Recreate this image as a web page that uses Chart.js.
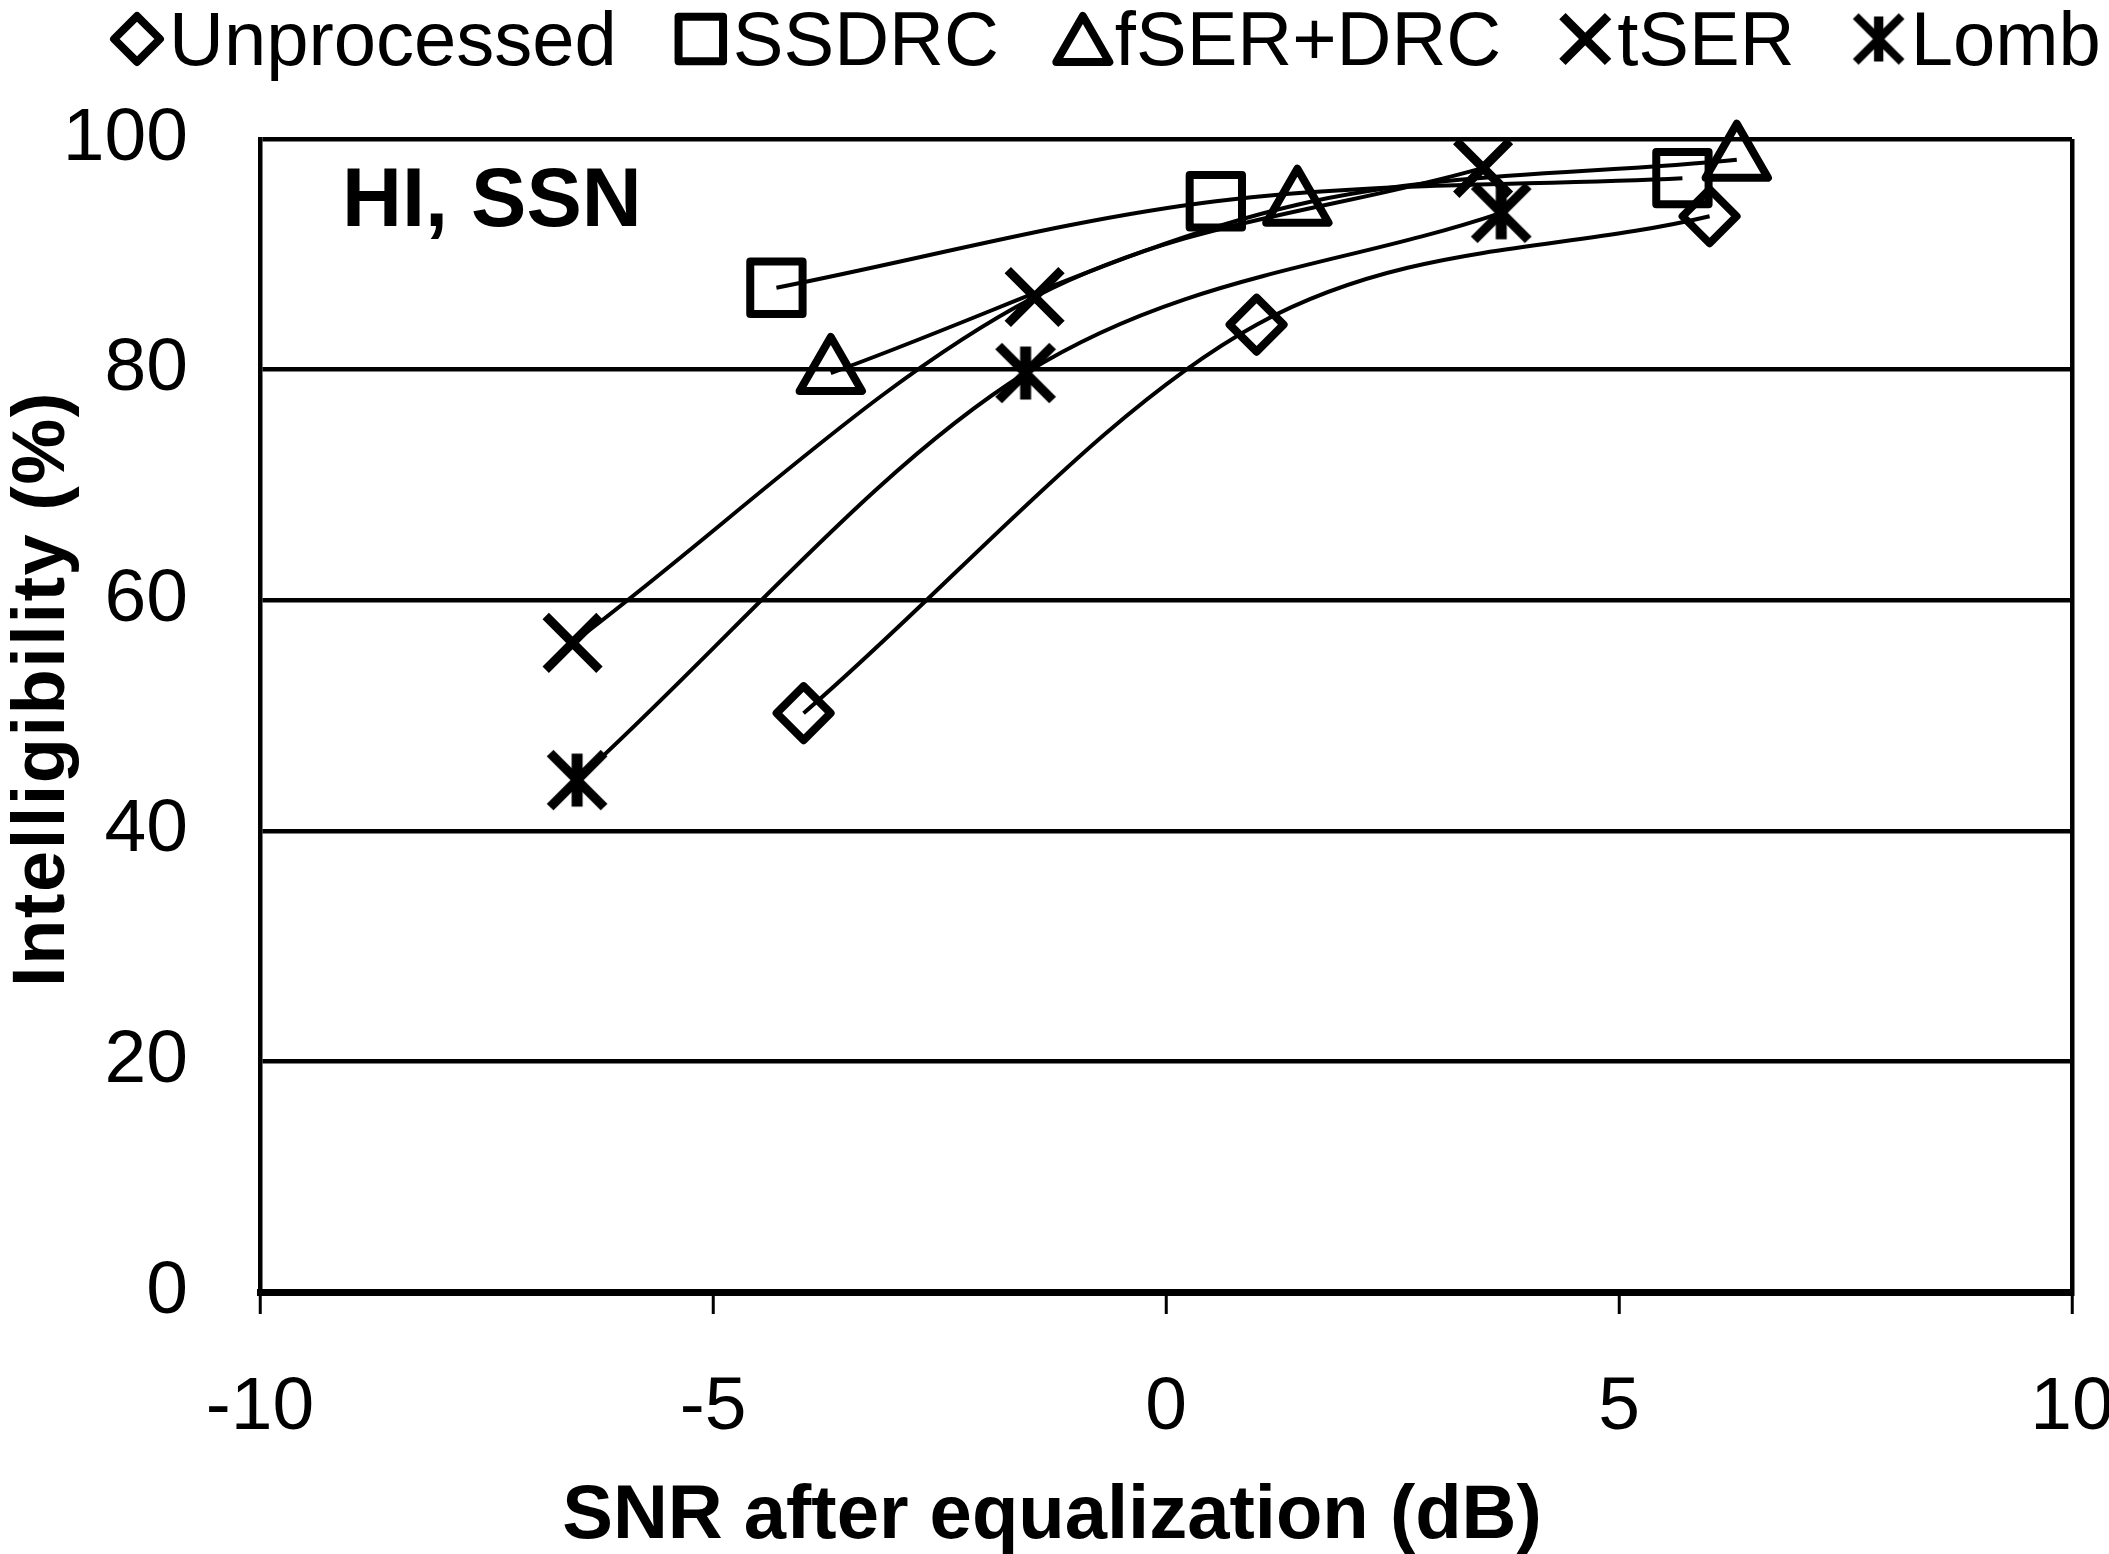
<!DOCTYPE html>
<html>
<head>
<meta charset="utf-8">
<script src="https://cdn.jsdelivr.net/npm/chart.js@4.4.1/dist/chart.umd.min.js"></script>
<style>
html,body{margin:0;padding:0;background:#fff;overflow:hidden}
canvas{display:block}
</style>
</head>
<body>
<canvas id="snrChart" width="2109" height="1554"></canvas>
<script>

const seriesNames = ["Unprocessed", "SSDRC", "fSER+DRC", "tSER", "Lombard"]

const unprocessedX = [-4.0, 1.0, 6.0]
const unprocessedY = [50.2, 83.9, 93.3]

const ssdrcX = [-4.3, 0.55, 5.7]
const ssdrcY = [87.1, 94.6, 96.6]

const fserDrcX = [-3.7, 1.45, 6.3]
const fserDrcY = [79.7, 94.3, 98.2]

const tserX = [-6.55, -1.45, 3.5]
const tserY = [56.3, 86.3, 97.5]

const lombX = [-6.5, -1.55, 3.7]
const lombY = [44.4, 79.7, 93.6]

const xTicks = [-10, -5, 0, 5, 10]
const yTicks = [0, 20, 40, 60, 80, 100]

const panelLabel = "HI, SSN"
const xTitle = "SNR after equalization (dB)"
const yTitle = "Intelligibility (%)"

const FONT = "'Liberation Sans', Arial, sans-serif"

function pts(xs, ys){
return xs.map((x, i) => ({x: x, y: ys[i]}))
}

// excel style star marker: X with a vertical bar
function starMark(scale){
const size = Math.round(72 * scale)
const c = document.createElement("canvas")
c.width = size
c.height = size
const g = c.getContext("2d")
const h = size / 2
const a = 27 * scale
const b = 26.5 * scale
g.strokeStyle = "#000"
g.lineCap = "butt"
g.lineWidth = 9.5 * scale
g.beginPath()
g.moveTo(h - a, h - a); g.lineTo(h + a, h + a)
g.moveTo(h + a, h - a); g.lineTo(h - a, h + a)
g.stroke()
g.lineWidth = 11 * scale
g.beginPath()
g.moveTo(h, h - b); g.lineTo(h, h + b)
g.stroke()
return c
}

function series(label, data, style, radius, bw){
return {
label: label,
data: data,
showLine: true,
clip: false,
borderColor: "#000",
borderWidth: 4,
cubicInterpolationMode: "monotone",
pointStyle: style,
pointRadius: radius,
pointHoverRadius: radius,
pointBorderWidth: bw,
pointHoverBorderWidth: bw,
pointBorderColor: "#000",
pointBackgroundColor: "rgba(0,0,0,0)"
}
}

const roundJoins = {
id: "roundJoins",
beforeDatasetsDraw(chart){
chart.ctx.lineJoin = "round"
}
}

const topLegend = {
id: "topLegend",
afterDraw(chart){
const ctx = chart.ctx
ctx.save()
// the source figure is cropped just after "Lomb"
ctx.beginPath()
ctx.rect(0, 0, 2102, 100)
ctx.clip()
ctx.font = "76px " + FONT
ctx.fillStyle = "#000"
ctx.textAlign = "left"
ctx.textBaseline = "alphabetic"
ctx.lineJoin = "round"
let mx = 137
const my = 39
chart.data.datasets.forEach(ds => {
if (ds.pointStyle instanceof HTMLCanvasElement) {
const img = starMark(0.85)
ctx.drawImage(img, mx - img.width / 2, my - img.height / 2)
} else {
const r = ds.pointRadius * 0.85
ctx.strokeStyle = "#000"
ctx.fillStyle = "rgba(0,0,0,0)"
ctx.lineWidth = ds.pointBorderWidth
Chart.helpers.drawPoint(ctx, {pointStyle: ds.pointStyle, radius: r, borderWidth: ds.pointBorderWidth, rotation: 0},
mx, ds.pointStyle === "triangle" ? my + r / 4 : my)
ctx.fillStyle = "#000"
}
ctx.fillText(ds.label, mx + 32, 65)
mx += 32 + ctx.measureText(ds.label).width + 84
})
ctx.restore()
}
}

const textLayer = {
id: "textLayer",
afterDraw(chart){
const ctx = chart.ctx
const area = chart.chartArea
ctx.save()
ctx.fillStyle = "#000"
ctx.textBaseline = "alphabetic"

ctx.font = "bold 83px " + FONT
ctx.textAlign = "left"
ctx.fillText(panelLabel, area.left + 82, area.top + 87)

ctx.font = "bold 76px " + FONT
ctx.textAlign = "center"
ctx.fillText(xTitle, 1052, 1538)

ctx.translate(64, 689)
ctx.rotate(-Math.PI / 2)
ctx.font = "bold 74px " + FONT
ctx.letterSpacing = "1.5px"
ctx.fillText(yTitle, 0, 0)
ctx.restore()
}
}

const ctx = document.getElementById("snrChart")

const chart = new Chart(ctx, {

type: "scatter",

data: {
datasets: [
series(seriesNames[0], pts(unprocessedX, unprocessedY), "rectRot", 27, 8),
series(seriesNames[1], pts(ssdrcX, ssdrcY), "rect", 37, 8),
series(seriesNames[2], pts(fserDrcX, fserDrcY), "triangle", 36, 8),
series(seriesNames[3], pts(tserX, tserY), "crossRot", 38, 9),
series(seriesNames[4], pts(lombX, lombY), starMark(1), 36, 0)
]
},

options: {
responsive: false,
animation: false,
events: [],
layout: {
autoPadding: false,
padding: {top: 139, right: 37, left: 0, bottom: 0}
},
plugins: {
legend: {display: false},
tooltip: {enabled: false}
},
scales: {
x: {
type: "linear",
min: -10,
max: 10,
afterBuildTicks: s => { s.ticks = xTicks.map(v => ({value: v})) },
afterFit: s => { s.height = 262; s.paddingLeft = 0; s.paddingRight = 0 },
grid: {
drawOnChartArea: true,
color: c => (c.tick && c.tick.value === 10) ? "#000" : "rgba(0,0,0,0)",
lineWidth: 4.5,
drawTicks: true,
tickLength: 22,
tickColor: "#000",
tickWidth: 3
},
border: {display: true, color: "#000", width: 7},
ticks: {
color: "#000",
font: {family: FONT, size: 75},
padding: 49,
maxRotation: 0,
autoSkip: false
}
},
y: {
type: "linear",
min: 0,
max: 100,
afterBuildTicks: s => { s.ticks = yTicks.map(v => ({value: v})) },
afterFit: s => { s.width = 260; s.paddingTop = 0; s.paddingBottom = 0 },
grid: {
color: "#000",
lineWidth: 4.5,
drawTicks: false
},
border: {display: true, color: "#000", width: 4.5},
ticks: {
color: "#000",
font: {family: FONT, size: 75},
padding: 72
}
}
}
},

plugins: [roundJoins, topLegend, textLayer]

})

</script>
</body>
</html>
